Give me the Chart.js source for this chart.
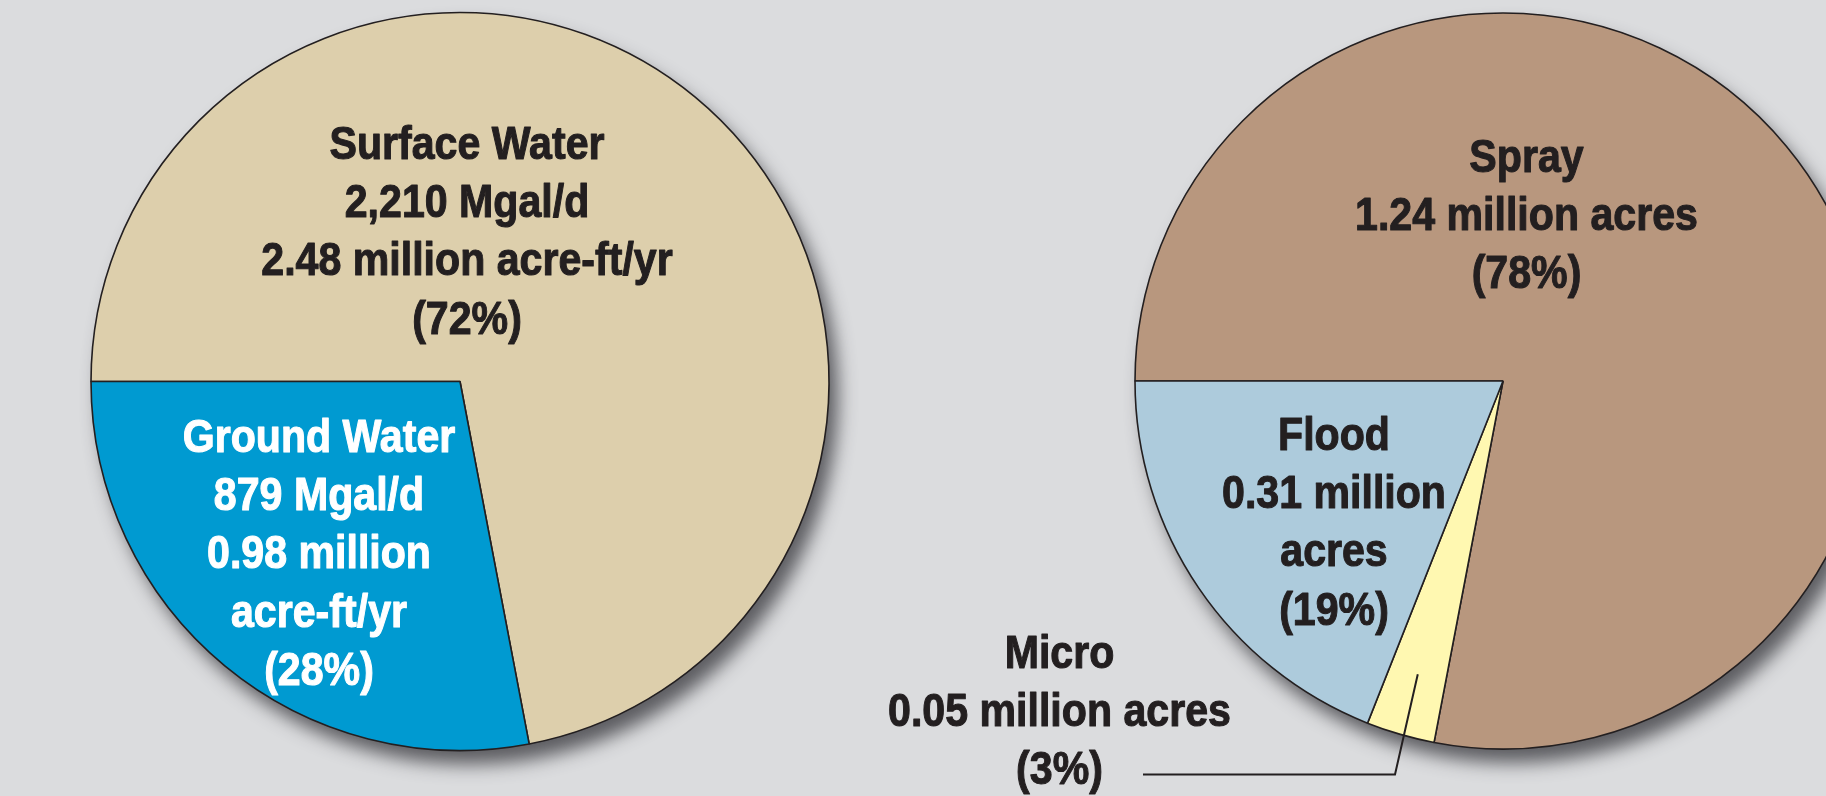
<!DOCTYPE html>
<html><head><meta charset="utf-8">
<script src="https://cdn.jsdelivr.net/npm/chart.js@4"></script>
<style>
html,body{margin:0;padding:0;overflow:hidden;background:#DBDCDE;}
#wrap{position:relative;width:1826px;height:796px;overflow:hidden;background:#DBDCDE;}
canvas{position:absolute;top:0;}
#c1{left:0;} #c2{left:860px;}
</style></head><body>
<div id="wrap"><canvas id="c1" width="920" height="796"></canvas><canvas id="c2" width="1286" height="796"></canvas></div>
<script>
// ---- data ----
const sourceCategories = ['Surface Water', 'Ground Water'];
const sourcePercent = [72, 28];
const sourceMgalPerDay = ['2,210', '879'];
const sourceAcreFtPerYr = ['2.48', '0.98'];

const methodCategories = ['Spray', 'Micro', 'Flood'];
const methodPercent = [78, 3, 19];
const methodMillionAcres = ['1.24', '0.05', '0.31'];

// ---- styles ----
const sourceColors = ['#DDCFAC', '#009AD1'];
const methodColors = ['#B8977E', '#FFF8B1', '#ADCBDC'];
const ink = '#231F20';
const FONT = 'bold 47px "Liberation Sans", Arial, sans-serif';
const XSCALE = 0.875;
const LINE = 58.2;

const sourceLines = [
  [sourceCategories[0], sourceMgalPerDay[0] + ' Mgal/d', sourceAcreFtPerYr[0] + ' million acre-ft/yr', '(' + sourcePercent[0] + '%)'],
  [sourceCategories[1], sourceMgalPerDay[1] + ' Mgal/d', sourceAcreFtPerYr[1] + ' million', 'acre-ft/yr', '(' + sourcePercent[1] + '%)']
];
const methodLines = [
  [methodCategories[0], methodMillionAcres[0] + ' million acres', '(' + methodPercent[0] + '%)'],
  [methodCategories[1], methodMillionAcres[1] + ' million acres', '(' + methodPercent[1] + '%)'],
  [methodCategories[2], methodMillionAcres[2] + ' million', 'acres', '(' + methodPercent[2] + '%)']
];

const shadowPlugin = {
  id: 'pieShadow',
  beforeDatasetsDraw(chart) {
    const a = chart.getDatasetMeta(0).data[0];
    const ctx = chart.ctx;
    ctx.save();
    ctx.shadowColor = 'rgba(70,70,75,0.85)';
    ctx.shadowBlur = 18;
    ctx.shadowOffsetX = 9;
    ctx.shadowOffsetY = 14;
    ctx.beginPath();
    ctx.arc(a.x, a.y, a.outerRadius, 0, Math.PI * 2);
    ctx.fillStyle = '#808084';
    ctx.fill();
    ctx.restore();
  }
};

function drawLines(ctx, lines, x, y, color) {
  ctx.save();
  ctx.font = FONT;
  ctx.fillStyle = color;
  ctx.strokeStyle = color;
  ctx.lineWidth = 1.1;
  ctx.lineJoin = 'round';
  ctx.textAlign = 'center';
  ctx.textBaseline = 'alphabetic';
  lines.forEach((t, i) => {
    ctx.save();
    ctx.translate(x, y + i * LINE);
    ctx.scale(XSCALE, 1);
    ctx.fillText(t, 0, 0);
    ctx.strokeText(t, 0, 0);
    ctx.restore();
  });
  ctx.restore();
}

// label placements relative to pie centre: [dx, dy of first baseline]
const sourceLabelPos = [[7, -222.5], [-141, 70.5]];
const methodLabelPos = [[23.5, -209], [-443.5, 287], [-169, 69]];
const sourceLabelColors = [ink, '#FFFFFF'];
const methodLabelColors = [ink, ink, ink];

function labelPlugin(lines, pos, colors, leader) {
  return {
    id: 'labels',
    afterDatasetsDraw(chart) {
      const arcs = chart.getDatasetMeta(0).data;
      const cx = arcs[0].x, cy = arcs[0].y;
      const ctx = chart.ctx;
      lines.forEach((l, i) => drawLines(ctx, l, cx + pos[i][0], cy + pos[i][1], colors[i]));
      if (leader) {
        const a = arcs[leader.index];
        const mid = (a.startAngle + a.endAngle) / 2;
        const r = a.outerRadius * leader.frac;
        const tx = cx + Math.cos(mid) * r, ty = cy + Math.sin(mid) * r;
        ctx.save();
        ctx.strokeStyle = ink;
        ctx.lineWidth = 2;
        ctx.beginPath();
        ctx.moveTo(cx + leader.from[0], cy + leader.from[1]);
        ctx.lineTo(cx + leader.corner[0], cy + leader.corner[1]);
        ctx.lineTo(tx, ty);
        ctx.stroke();
        ctx.restore();
      }
    }
  };
}

function makePie(id, labels, values, colors, radius, padBottom, plugins) {
  return new Chart(document.getElementById(id), {
    type: 'pie',
    data: { labels: labels, datasets: [{ data: values, backgroundColor: colors, borderColor: ink, borderWidth: 1.6, radius: radius }] },
    options: {
      responsive: false, animation: false, events: [],
      rotation: -90,
      layout: { padding: { top: 0, left: 0, right: 0, bottom: padBottom } },
      plugins: { legend: { display: false }, tooltip: { enabled: false } }
    },
    plugins: plugins
  });
}

makePie('c1', sourceCategories, sourcePercent, sourceColors, 369, 33,
  [shadowPlugin, labelPlugin(sourceLines, sourceLabelPos, sourceLabelColors, null)]);
makePie('c2', methodCategories, methodPercent, methodColors, 368, 34,
  [shadowPlugin, labelPlugin(methodLines, methodLabelPos, methodLabelColors,
    { index: 1, frac: 0.83, from: [-360, 393.5], corner: [-108, 393.5] })]);
</script>
</body></html>
